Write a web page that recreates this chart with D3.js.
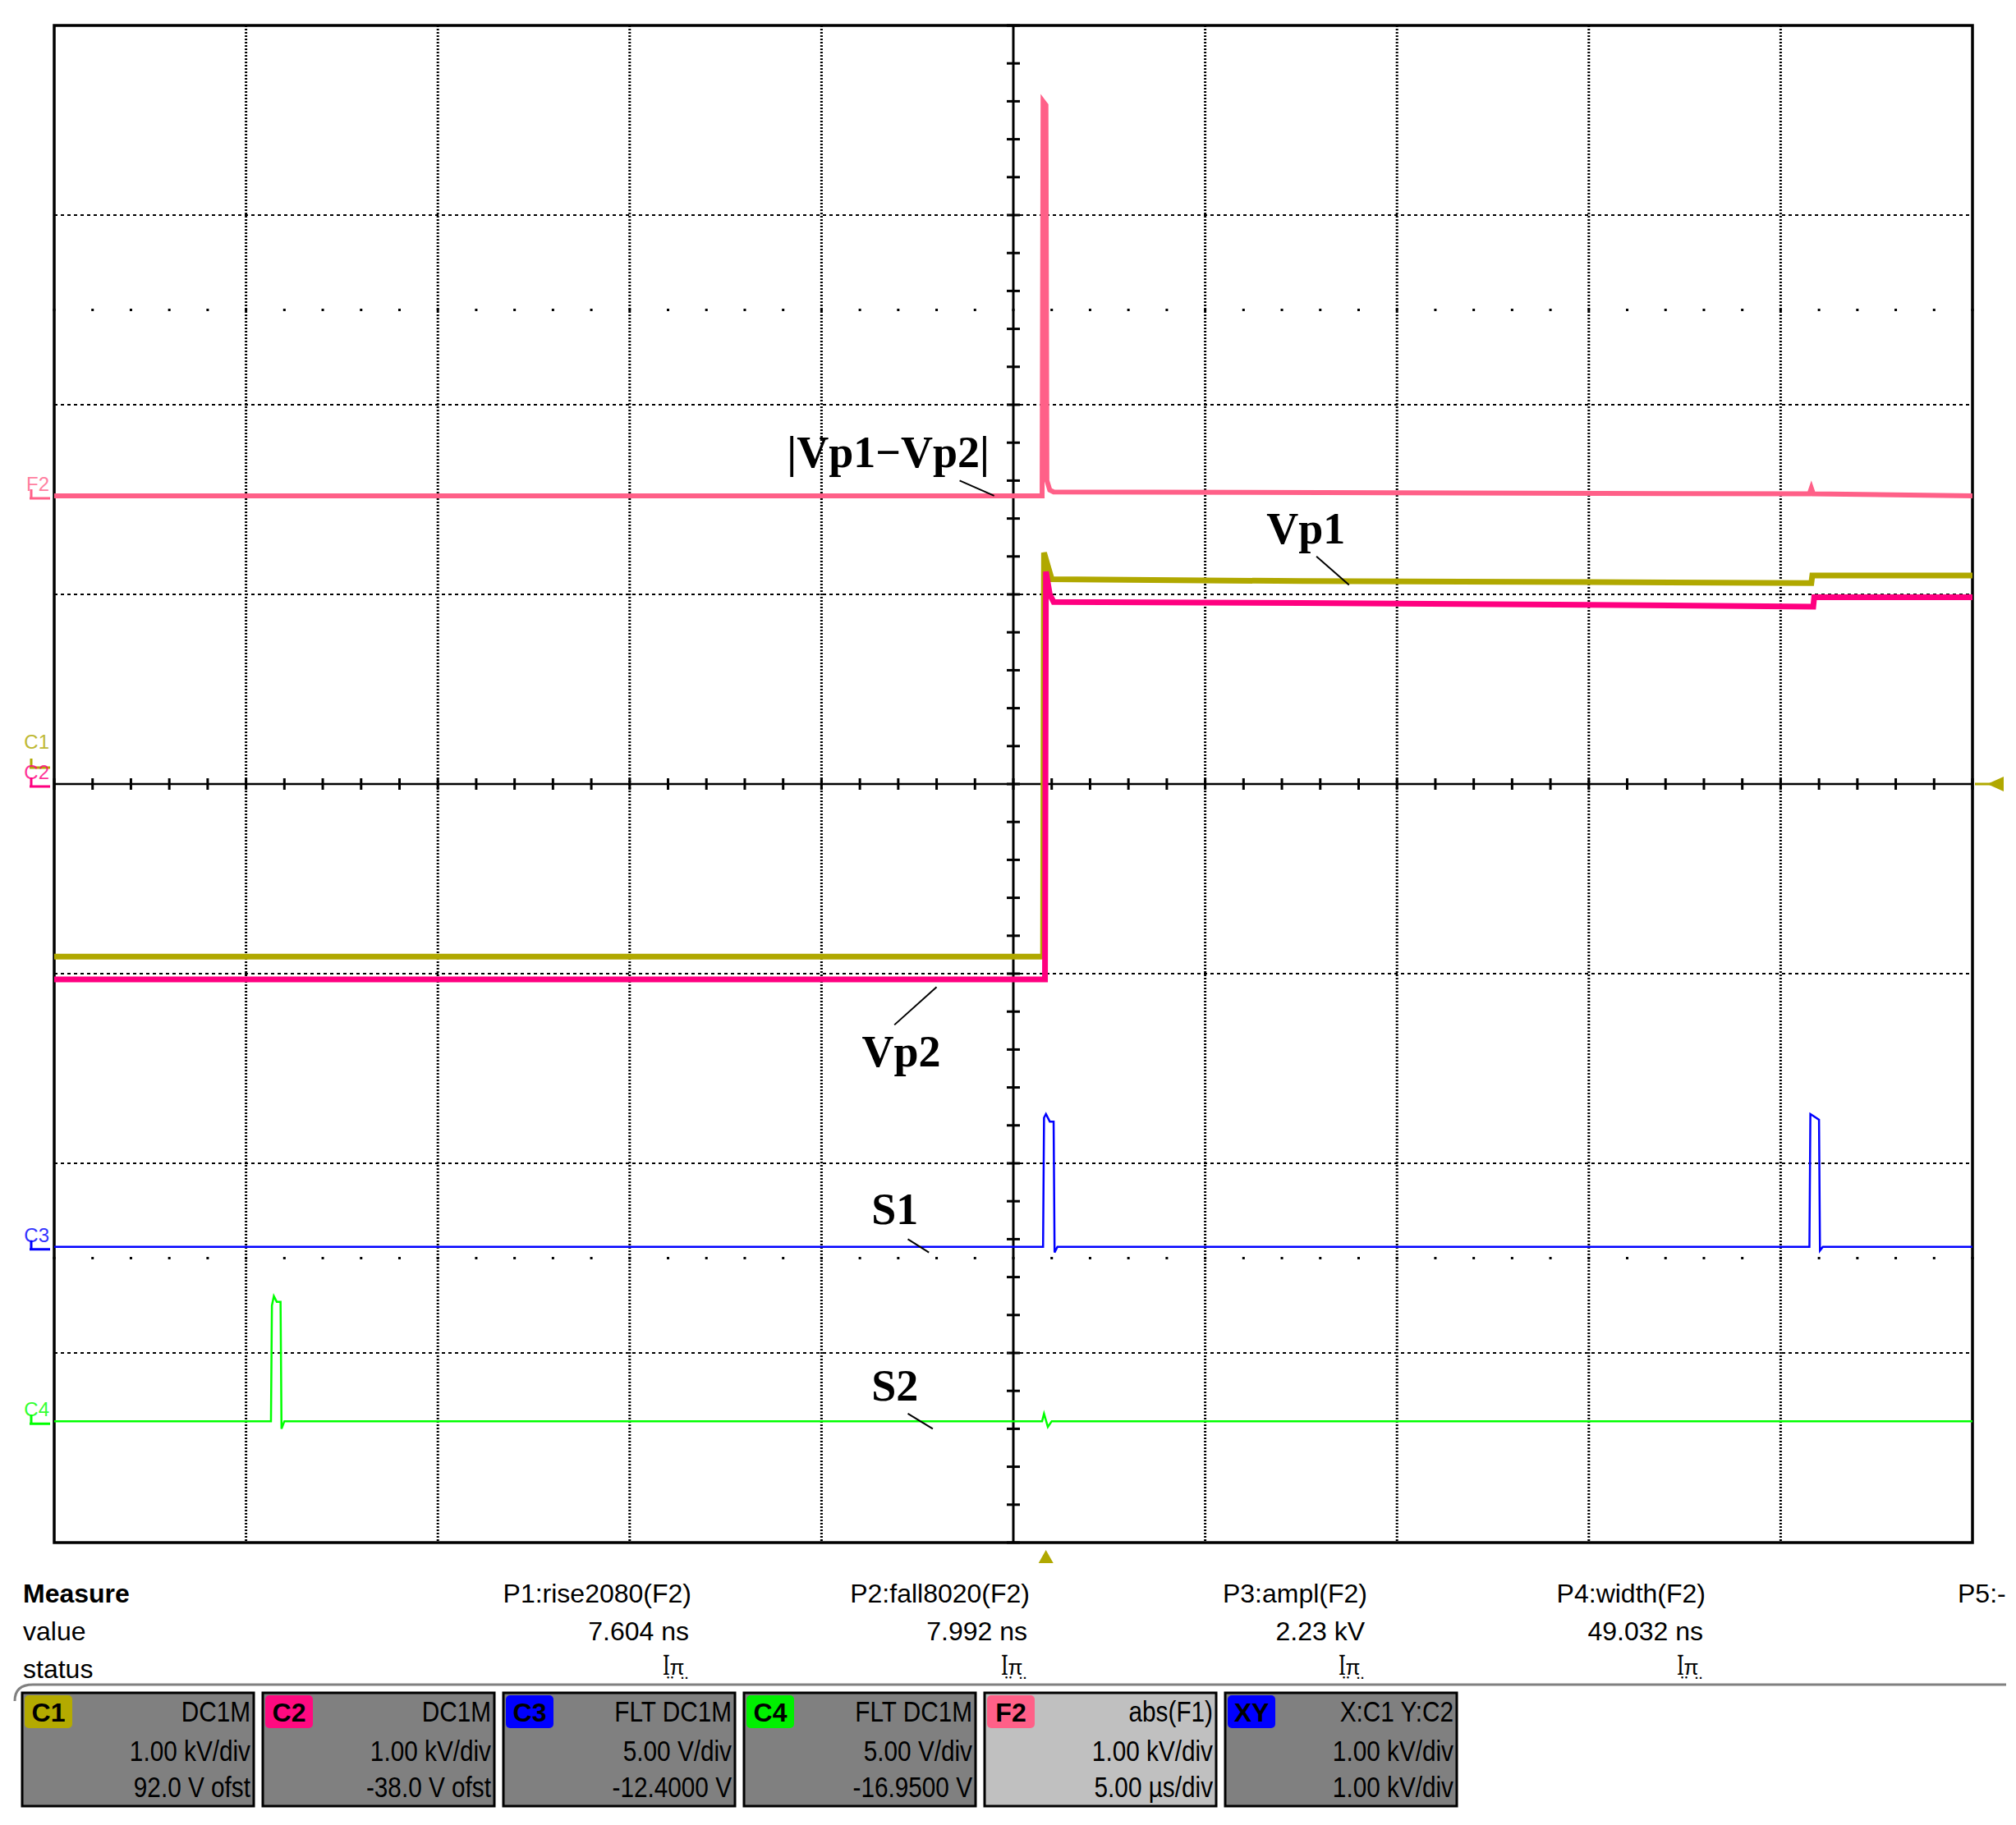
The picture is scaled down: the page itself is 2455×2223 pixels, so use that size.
<!DOCTYPE html>
<html><head><meta charset="utf-8">
<script src="https://cdn.jsdelivr.net/npm/d3@7"></script>
<style>body{margin:0;background:#fff}</style>
</head><body>
<svg id="c" width="2455" height="2223"></svg>
<script>
// time in divisions (-5..5), value in divisions (-4..4)
const traceF2 = [[-5,1.52],[0.15,1.52],[0.155,3.6],[0.17,3.58],[0.175,1.6],[0.19,1.55],[0.21,1.54],[4.15,1.53],[4.16,1.56],[4.17,1.53],[5,1.52]];
const traceC1 = [[-5,-0.91],[0.155,-0.91],[0.16,1.22],[0.18,1.15],[0.2,1.08],[1.5,1.07],[3.0,1.065],[4.16,1.06],[4.165,1.1],[5,1.1]];
const traceC2 = [[-5,-1.03],[0.165,-1.03],[0.17,1.12],[0.19,1.0],[0.21,0.96],[1.5,0.955],[3.0,0.945],[4.17,0.935],[4.175,0.985],[5,0.985]];
const traceC3 = [[-5,-2.44],[0.155,-2.44],[0.16,-1.76],[0.17,-1.74],[0.19,-1.78],[0.21,-1.78],[0.215,-2.47],[0.23,-2.44],[4.15,-2.44],[4.155,-1.74],[4.17,-1.75],[4.2,-1.77],[4.205,-2.46],[4.22,-2.44],[5,-2.44]];
const traceC4 = [[-5,-3.36],[-3.87,-3.36],[-3.865,-2.75],[-3.855,-2.7],[-3.84,-2.73],[-3.82,-2.73],[-3.815,-3.4],[-3.8,-3.36],[0.15,-3.36],[0.16,-3.32],[0.18,-3.39],[0.2,-3.36],[5,-3.36]];
const chanMarkers = [["F2",1.52,"#ff6088"],["C1",0.1,"#b0a800"],["C2",0.0,"#ff0080"],["C3",-2.44,"#0000ff"],["C4",-3.36,"#00ff00"]];
const annotations = [
  {text:"|Vp1−Vp2|", t:-1.18, v:1.67, lx:[-0.28,-0.1], ly:[1.6,1.52]},
  {text:"Vp1", t:1.32, v:1.27, lx:[1.58,1.75], ly:[1.2,1.05]},
  {text:"Vp2", t:-0.79, v:-1.49, lx:[-0.62,-0.4], ly:[-1.27,-1.07]},
  {text:"S1", t:-0.74, v:-2.32, lx:[-0.55,-0.44], ly:[-2.4,-2.47]},
  {text:"S2", t:-0.74, v:-3.25, lx:[-0.55,-0.42], ly:[-3.32,-3.4]}
];
const measHeads = ["P1:rise2080(F2)","P2:fall8020(F2)","P3:ampl(F2)","P4:width(F2)"];
const measVals = ["7.604 ns","7.992 ns","2.23 kV","49.032 ns"];
const boxes = [
  {tag:"C1",col:"#b4aa00",r1:"DC1M",r2:"1.00 kV/div",r3:"92.0 V ofst",bg:"#808080"},
  {tag:"C2",col:"#ff0a80",r1:"DC1M",r2:"1.00 kV/div",r3:"-38.0 V ofst",bg:"#808080"},
  {tag:"C3",col:"#0000ff",r1:"FLT  DC1M",r2:"5.00 V/div",r3:"-12.4000 V",bg:"#808080"},
  {tag:"C4",col:"#00f000",r1:"FLT  DC1M",r2:"5.00 V/div",r3:"-16.9500 V",bg:"#808080"},
  {tag:"F2",col:"#ff6088",r1:"abs(F1)",r2:"1.00 kV/div",r3:"5.00 µs/div",bg:"#c0c0c0"},
  {tag:"XY",col:"#0000ff",r1:"X:C1  Y:C2",r2:"1.00 kV/div",r3:"1.00 kV/div",bg:"#808080"}
];

const svg = d3.select("#c");
const x = d3.scaleLinear().domain([-5,5]).range([66,2402]);
const y = d3.scaleLinear().domain([-4,4]).range([1879,31]);
const g = svg.append("g");
// grid
d3.range(-4,5).filter(d=>d!==0).forEach(t=>g.append("line").attr("x1",x(t)).attr("x2",x(t)).attr("y1",y(4)).attr("y2",y(-4)).attr("stroke","#000").attr("stroke-width",3).attr("stroke-dasharray","2,2"));
d3.range(-3,4).filter(d=>d!==0).forEach(v=>g.append("line").attr("x1",x(-5)).attr("x2",x(5)).attr("y1",y(v)).attr("y2",y(v)).attr("stroke","#000").attr("stroke-width",2).attr("stroke-dasharray","4,4"));
// center axes
g.append("line").attr("x1",x(-5)).attr("x2",x(5)).attr("y1",y(0)).attr("y2",y(0)).attr("stroke","#000").attr("stroke-width",2.5);
g.append("line").attr("x1",x(0)).attr("x2",x(0)).attr("y1",y(4)).attr("y2",y(-4)).attr("stroke","#000").attr("stroke-width",3);
d3.range(-50,51,2).forEach(k=>{const t=k/10; g.append("line").attr("x1",x(t)).attr("x2",x(t)).attr("y1",y(0)-7).attr("y2",y(0)+7).attr("stroke","#000").attr("stroke-width",3);
  [2.5,-2.5].forEach(v=>g.append("rect").attr("x",x(t)-1.5).attr("y",y(v)-1.5).attr("width",3).attr("height",3).attr("fill","#000"));});
d3.range(-40,41,2).forEach(k=>{const v=k/10; g.append("line").attr("x1",x(0)-8).attr("x2",x(0)+8).attr("y1",y(v)).attr("y2",y(v)).attr("stroke","#000").attr("stroke-width",3);});
// border
g.append("rect").attr("x",x(-5)).attr("y",y(4)).attr("width",x(5)-x(-5)).attr("height",y(-4)-y(4)).attr("fill","none").attr("stroke","#000").attr("stroke-width",3.5);
// traces
const line = d3.line().x(d=>x(d[0])).y(d=>y(d[1])).curve(d3.curveLinear);
[[traceC1,"#b0a800",7],[traceC2,"#ff0080",7],[traceF2,"#ff6088",6],[traceC3,"#0000ff",2.5],[traceC4,"#00ff00",2.5]].forEach(([d,c,w])=>
  g.append("path").attr("d",line(d)).attr("fill","none").attr("stroke",c).attr("stroke-width",w).attr("stroke-linejoin","miter"));
// channel markers
chanMarkers.forEach(([n,v,c])=>{
  g.append("text").attr("x",60).attr("y",y(v)-(n==="C1"?20:6)).attr("text-anchor","end").attr("font-family","Liberation Sans").attr("font-size",24).attr("fill",c).attr("opacity",0.8).text(n);
  g.append("path").attr("d",`M36,${y(v)+3}h25M38,${y(v)-8}v11`).attr("stroke",c).attr("stroke-width",3).attr("fill","none");
});
// trigger markers
g.append("path").attr("d",`M${x(0.17)},${1888}l-9,16h18z`).attr("fill","#b0a800");
g.append("path").attr("d",`M2420,${y(0)}l20,-9v18z`).attr("fill","#b0a800");
g.append("line").attr("x1",2405).attr("x2",2425).attr("y1",y(0)).attr("y2",y(0)).attr("stroke","#b0a800").attr("stroke-width",3);
// annotations
annotations.forEach(a=>{
  g.append("text").attr("x",x(a.t)).attr("y",y(a.v)).attr("font-family","Liberation Serif").attr("font-weight","bold").attr("font-size",54).attr("fill","#000").text(a.text);
  g.append("line").attr("x1",x(a.lx[0])).attr("x2",x(a.lx[1])).attr("y1",y(a.ly[0])).attr("y2",y(a.ly[1])).attr("stroke","#000").attr("stroke-width",2);
});
// measure area
const mf = "Liberation Sans";
[["Measure",1952,"bold"],["value",1998,"normal"],["status",2044,"normal"]].forEach(([t,yy,w])=>
  svg.append("text").attr("x",28).attr("y",yy).attr("font-family",mf).attr("font-weight",w).attr("font-size",32).attr("fill","#000").text(t));
const colX = [842,1254,1665,2077];
measHeads.forEach((h,i)=>{
  svg.append("text").attr("x",colX[i]).attr("y",1952).attr("text-anchor","end").attr("font-family",mf).attr("font-size",32).text(h);
  svg.append("text").attr("x",colX[i]-3).attr("y",1998).attr("text-anchor","end").attr("font-family",mf).attr("font-size",32).text(measVals[i]);
  svg.append("text").attr("x",colX[i]-22).attr("y",2040).attr("text-anchor","middle").attr("font-family",mf).attr("font-size",26).text("ꟾ̤π̤");
});
svg.append("text").attr("x",2384).attr("y",1952).attr("font-family",mf).attr("font-size",32).text("P5:-");
svg.append("path").attr("d","M18,2072 Q18,2052 40,2052 H2443").attr("stroke","#808080").attr("stroke-width",3).attr("fill","none");
// channel boxes
boxes.forEach((b,i)=>{
  const bx = 27 + i*293, by = 2062, bw = 282, bh = 138;
  svg.append("rect").attr("x",bx).attr("y",by).attr("width",bw).attr("height",bh).attr("fill",b.bg).attr("stroke","#000").attr("stroke-width",3);
  svg.append("rect").attr("x",bx+3).attr("y",by+3).attr("width",58).attr("height",40).attr("rx",5).attr("fill",b.col);
  svg.append("text").attr("x",bx+32).attr("y",by+35).attr("text-anchor","middle").attr("font-family",mf).attr("font-weight","bold").attr("font-size",32).attr("fill","#000").text(b.tag);
  [[b.r1,by+35],[b.r2,by+83],[b.r3,by+127]].forEach(([t,yy])=>
    svg.append("text").attr("transform",`translate(${bx+bw-4},${yy}) scale(0.85,1)`).attr("text-anchor","end").attr("font-family",mf).attr("font-size",35).attr("fill","#000").text(t));
});
</script>
</body></html>
